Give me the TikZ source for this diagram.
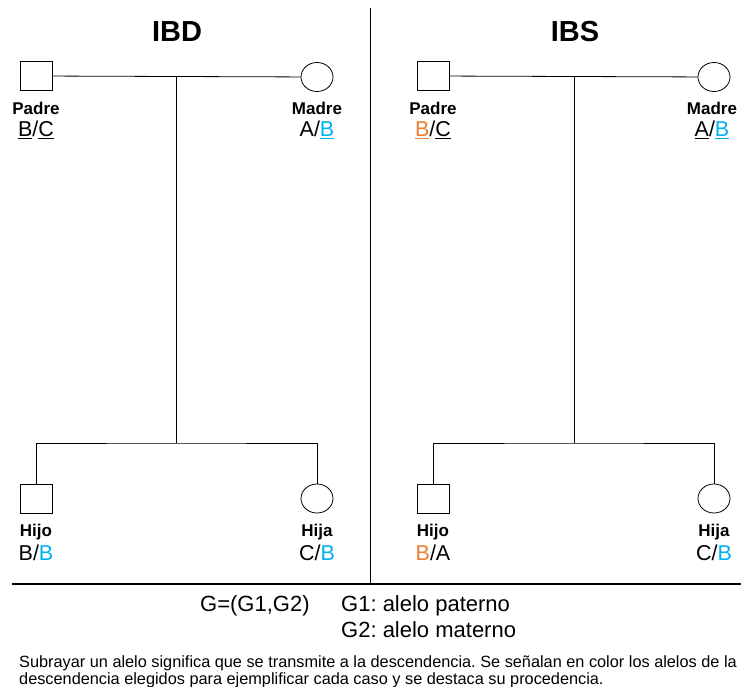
\documentclass[tikz,border=0pt]{standalone}
\usepackage{fontspec}
\setmainfont{Liberation Sans}
\usepackage{xcolor}
\usetikzlibrary{shapes.geometric, positioning}

\definecolor{matblue}{RGB}{0,176,240}
\definecolor{patorange}{RGB}{240,125,50}
\frenchspacing

\begin{document}
\begin{tikzpicture}[
  x=1pt, y=-1pt,
  male/.style={draw, line width=0.8pt, minimum width=32pt, minimum height=29pt, inner sep=0pt},
  female/.style={draw, ellipse, line width=0.8pt, minimum width=32pt, minimum height=29pt, inner sep=0pt},
  who/.style={anchor=base, inner sep=0pt, font=\fontsize{17}{17}\selectfont\bfseries},
  geno/.style={anchor=base, inner sep=0pt, font=\fontsize{21.5}{21.5}\selectfont},
  heading/.style={anchor=base, inner sep=0pt, font=\fontsize{29}{29}\selectfont\bfseries},
  legend/.style={anchor=base west, inner sep=0pt, font=\fontsize{22}{22}\selectfont},
  remark/.style={anchor=base west, inner sep=0pt, font=\fontsize{16.3}{16.3}\selectfont},
  link/.style={line width=0.8pt}
]
  \useasboundingbox (0,0) rectangle (741,687);

  % Titles
  \node[heading] (tIBD) at (177,42) {IBD};
  \node[heading] (tIBS) at (575,42) {IBS};

  % Frame lines
  \coordinate (divtop) at (370,8);
  \coordinate (divbot) at (370,584);
  \coordinate (rulel) at (12,584);
  \coordinate (ruler) at (741,584);
  \draw[line width=0.9pt] (divtop) -- (divbot);
  \draw[line width=2.6pt] (rulel) -- (ruler);

  % IBD family
  \node[male] (padreD) at (36,76) {};
  \node[female] (madreD) at (317,77) {};
  \node[male] (hijoD) at (36,498.5) {};
  \node[female] (hijaD) at (317,498.5) {};
  \coordinate (unionD) at (176,77);
  \coordinate (sibD) at (176,443);

  \node[who] (padreDn) at (36,115) {Padre};
  \node[geno] (padreDg) at (36,137) {\underline{B}/\underline{C}};
  \node[who] (madreDn) at (317,115) {Madre};
  \node[geno] (madreDg) at (317,137) {A/\textcolor{matblue}{\underline{B}}};
  \node[who] (hijoDn) at (36,536) {Hijo};
  \node[geno] (hijoDg) at (36,560) {B/\textcolor{matblue}{B}};
  \node[who] (hijaDn) at (317,536) {Hija};
  \node[geno] (hijaDg) at (317,560) {C/\textcolor{matblue}{B}};

  \draw[link] (padreD) -- (madreD);
  \draw[link] (unionD) -- (sibD);
  \draw[link] (hijoD.north) |- (sibD) -| (hijaD.north);

  % IBS family
  \node[male] (padreS) at (433,76) {};
  \node[female] (madreS) at (714,77) {};
  \node[male] (hijoS) at (433,498.5) {};
  \node[female] (hijaS) at (714,498.5) {};
  \coordinate (unionS) at (574,77);
  \coordinate (sibS) at (574,443);

  \node[who] (padreSn) at (433,115) {Padre};
  \node[geno] (padreSg) at (433,137) {\textcolor{patorange}{\underline{B}}/\underline{C}};
  \node[who] (madreSn) at (712,115) {Madre};
  \node[geno] (madreSg) at (712,137) {\underline{A}/\textcolor{matblue}{\underline{B}}};
  \node[who] (hijoSn) at (433,536) {Hijo};
  \node[geno] (hijoSg) at (433,560) {\textcolor{patorange}{B}/A};
  \node[who] (hijaSn) at (714,536) {Hija};
  \node[geno] (hijaSg) at (714,560) {C/\textcolor{matblue}{B}};

  \draw[link] (padreS) -- (madreS);
  \draw[link] (unionS) -- (sibS);
  \draw[link] (hijoS.north) |- (sibS) -| (hijaS.north);

  % Legend
  \node[legend] (gdef) at (200,611) {G=(G1,G2)};
  \node[legend] (g1) at (341,611) {G1: alelo paterno};
  \node[legend] (g2) at (341,637) {G2: alelo materno};
  \node[remark] (note1) at (19,667)
    {Subrayar un alelo significa que se transmite a la descendencia. Se señalan en color los alelos de la};
  \node[remark] (note2) at (19,684)
    {descendencia elegidos para ejemplificar cada caso y se destaca su procedencia.};
\end{tikzpicture}
\end{document}
